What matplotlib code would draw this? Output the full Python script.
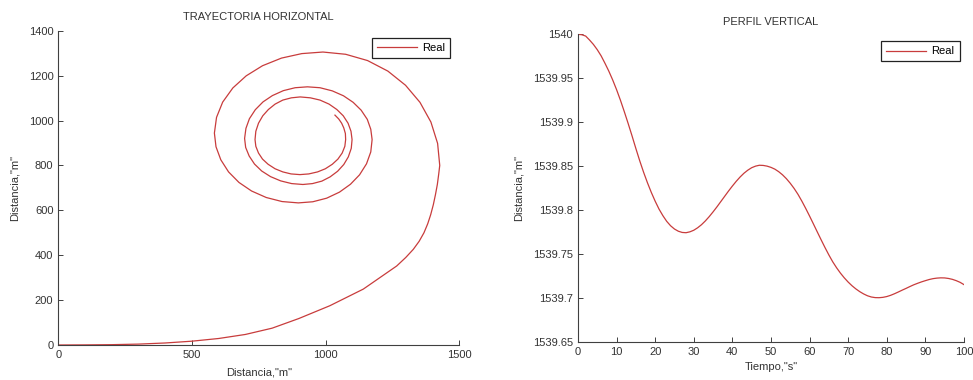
import matplotlib
matplotlib.use('Agg')
import matplotlib.pyplot as plt

plt.rcParams['font.family'] = ['Liberation Sans', 'DejaVu Sans']
plt.rcParams['font.size'] = 8

# trayectoria horizontal (x, y en metros)
tray_x = [0, 100, 200, 300, 400, 500, 600, 700, 800, 900, 1016, 1141, 1266, 1300,
          1328, 1350, 1368, 1382, 1393, 1403, 1411, 1418, 1423, 1427,
          1419, 1394, 1353, 1299, 1233, 1157, 1075, 990,
          911, 835, 764, 703, 653, 615, 592, 584,
          590, 608, 637, 676, 723, 778, 837, 898,
          952, 1004, 1052, 1093, 1127, 1153, 1169, 1174,
          1169, 1156, 1133, 1103, 1067, 1025, 979, 932,
          886, 842, 801, 766, 737, 715, 702, 697,
          701, 714, 734, 761, 794, 832, 873, 915,
          951, 986, 1017, 1045, 1068, 1085, 1096, 1099,
          1095, 1084, 1066, 1042, 1013, 979, 943, 905,
          872, 840, 811, 786, 765, 749, 739, 736,
          739, 749, 764, 785, 811, 840, 871, 904,
          937, 970, 999, 1025, 1046, 1062, 1072, 1075,
          1074, 1068, 1060, 1049, 1035]
tray_y = [0, 0.5, 1.5, 4, 9, 17, 29, 47, 75, 118, 175, 249, 352, 390,
          426, 462, 500, 540, 580, 625, 670, 715, 760, 800,
          898, 993, 1081, 1157, 1220, 1267, 1295, 1305,
          1298, 1278, 1244, 1199, 1145, 1082, 1014, 944,
          883, 825, 771, 724, 686, 657, 639, 633,
          638, 654, 681, 716, 758, 807, 860, 915,
          961, 1005, 1046, 1081, 1110, 1132, 1146, 1150,
          1146, 1133, 1111, 1083, 1048, 1008, 965, 920,
          880, 842, 806, 775, 750, 731, 719, 715,
          719, 730, 749, 774, 804, 838, 876, 915,
          952, 988, 1021, 1049, 1073, 1091, 1101, 1105,
          1101, 1091, 1073, 1049, 1021, 988, 952, 915,
          885, 855, 828, 805, 785, 771, 762, 759,
          762, 771, 785, 805, 828, 855, 885, 915,
          942, 967, 988, 1007, 1024]

# perfil vertical: profundidad cada segundo
tiempo = list(range(0, 101))
prof = [1540.0000, 1539.9995, 1539.9980, 1539.9935, 1539.9885, 1539.9825,
        1539.9755, 1539.9670, 1539.9580, 1539.9480, 1539.9370, 1539.9250,
        1539.9120, 1539.8985, 1539.8845, 1539.8700, 1539.8560, 1539.8430,
        1539.8310, 1539.8200, 1539.8100, 1539.8010, 1539.7935, 1539.7870,
        1539.7820, 1539.7783, 1539.7758, 1539.7744, 1539.7741, 1539.7751,
        1539.7769, 1539.7797, 1539.7832, 1539.7875, 1539.7924, 1539.7978,
        1539.8035, 1539.8095, 1539.8155, 1539.8215, 1539.8272, 1539.8326,
        1539.8375, 1539.8418, 1539.8453, 1539.8481, 1539.8499, 1539.8509,
        1539.8507, 1539.8499, 1539.8485, 1539.8465, 1539.8436, 1539.8400,
        1539.8356, 1539.8304, 1539.8245, 1539.8178, 1539.8101, 1539.8018,
        1539.7931, 1539.7841, 1539.7750, 1539.7660, 1539.7572, 1539.7488,
        1539.7410, 1539.7342, 1539.7281, 1539.7227, 1539.7179, 1539.7137,
        1539.7101, 1539.7070, 1539.7044, 1539.7023, 1539.7009, 1539.7002,
        1539.7001, 1539.7005, 1539.7014, 1539.7028, 1539.7046, 1539.7066,
        1539.7087, 1539.7107, 1539.7128, 1539.7148, 1539.7165, 1539.7181,
        1539.7195, 1539.7208, 1539.7218, 1539.7224, 1539.7227, 1539.7226,
        1539.7220, 1539.7210, 1539.7195, 1539.7176, 1539.7150]

line_color = '#c83c3c'
axis_color = '#404040'
text_color = '#333333'

fig = plt.figure(figsize=(9.73, 3.8), dpi=100)
ax1 = fig.add_axes([0.0599, 0.0921, 0.4121, 0.8271])
ax2 = fig.add_axes([0.594, 0.1008, 0.3967, 0.8089])


def style(ax):
    ax.spines['top'].set_visible(False)
    ax.spines['right'].set_visible(False)
    for s in ('left', 'bottom'):
        ax.spines[s].set_color(axis_color)
        ax.spines[s].set_linewidth(0.8)
    ax.tick_params(direction='in', length=3.5, width=0.7, color=axis_color,
                   labelcolor=text_color, labelsize=8, pad=3.5)


def legend(ax, anchor):
    leg = ax.legend(loc='upper right', bbox_to_anchor=anchor, fancybox=False,
                    edgecolor='#222222', handlelength=3.6, borderpad=0.45,
                    handletextpad=0.5, framealpha=1)
    leg.get_frame().set_linewidth(0.9)


ax1.plot(tray_x, tray_y, color=line_color, lw=0.9, label='Real')
ax1.set_xlim(0, 1500)
ax1.set_ylim(0, 1400)
ax1.set_xticks([0, 500, 1000, 1500])
ax1.set_yticks(range(0, 1401, 200))
style(ax1)
ax1.set_title('TRAYECTORIA HORIZONTAL', fontsize=8, color=text_color, pad=8)
ax1.set_xlabel('Distancia,"m"', color=text_color, va='center')
ax1.set_ylabel('Distancia,"m"', color=text_color, va='center')
ax1.xaxis.set_label_coords(0.5, -0.088)
ax1.yaxis.set_label_coords(-0.108, 0.5)
legend(ax1, (0.992, 0.995))

ax2.plot(tiempo, prof, color=line_color, lw=0.9, label='Real')
ax2.set_xlim(0, 100)
ax2.set_ylim(1539.65, 1540)
ax2.set_xticks(range(0, 101, 10))
yt = [1539.65, 1539.7, 1539.75, 1539.8, 1539.85, 1539.9, 1539.95, 1540]
ax2.set_yticks(yt)
ax2.set_yticklabels(['%g' % v for v in yt])
style(ax2)
ax2.set_title('PERFIL VERTICAL', fontsize=8, color=text_color, pad=7)
ax2.set_xlabel('Tiempo,"s"', color=text_color, va='center')
ax2.set_ylabel('Distancia,"m"', color=text_color, va='center')
ax2.xaxis.set_label_coords(0.5, -0.082)
ax2.yaxis.set_label_coords(-0.153, 0.5)
legend(ax2, (1.003, 0.995))

fig.savefig('out.png', dpi=100)
